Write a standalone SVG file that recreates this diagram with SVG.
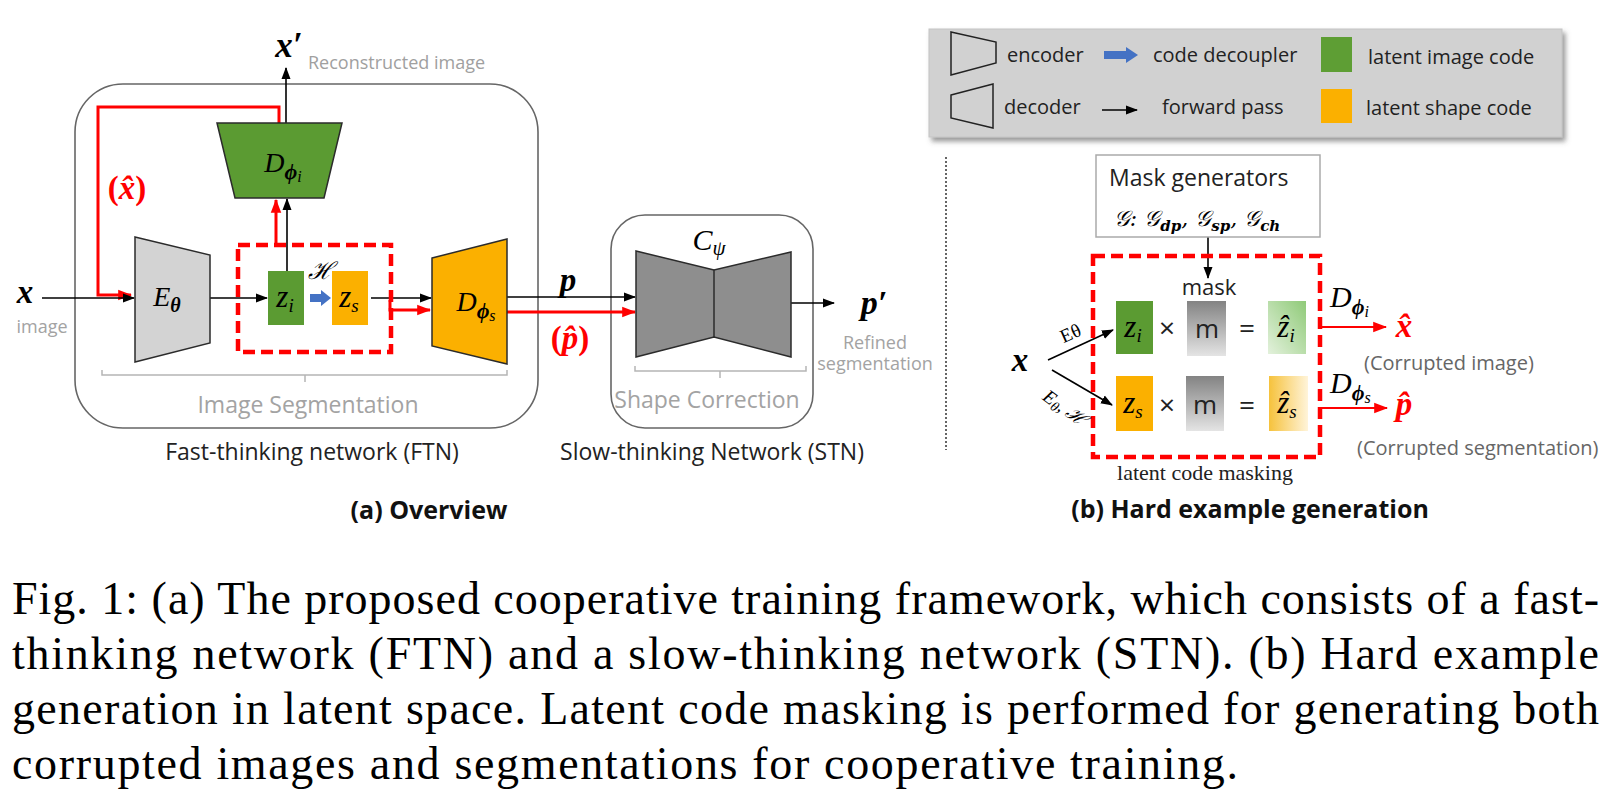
<svg xmlns="http://www.w3.org/2000/svg" width="1618" height="801" viewBox="0 0 1618 801">
<style>
.sans{font-family:"Open Sans","Liberation Sans",sans-serif}
.math{font-family:"Liberation Serif","DejaVu Serif",serif;font-style:italic}
.mb{font-family:"Liberation Serif","DejaVu Serif",serif;font-style:italic;font-weight:bold}
.gray{fill:#a3a3a3}
.dark{fill:#222}
.blk{stroke:#000;stroke-width:1.6;fill:none}
.red{stroke:#ff0000;stroke-width:3;fill:none}
.redthin{stroke:#ff0000;stroke-width:2;fill:none}
.edge{stroke:#2b2b2b;stroke-width:1.5}
.dash{stroke:#ff0000;stroke-width:4.5;stroke-dasharray:12 6;fill:none}
.cap{font-family:"Liberation Serif","DejaVu Serif",serif;font-size:46px;fill:#000}
</style>
<defs>
<marker id="ab" viewBox="0 0 12 10" refX="11" refY="5" markerWidth="12" markerHeight="10" markerUnits="userSpaceOnUse" orient="auto"><path d="M0,0.5 L12,5 L0,9.5 z" fill="#000"/></marker>
<marker id="ar" viewBox="0 0 12 10" refX="11" refY="5" markerWidth="14" markerHeight="12" markerUnits="userSpaceOnUse" orient="auto"><path d="M0,0.5 L12,5 L0,9.5 z" fill="#ff0000"/></marker>
<linearGradient id="gm" x1="0" y1="0" x2="0" y2="1"><stop offset="0" stop-color="#838383"/><stop offset="1" stop-color="#e4e4e4"/></linearGradient>
<linearGradient id="gzi" x1="1" y1="0" x2="0" y2="1"><stop offset="0" stop-color="#8fca78"/><stop offset="1" stop-color="#e3f1dc"/></linearGradient>
<linearGradient id="gzs" x1="0" y1="0" x2="1" y2="0"><stop offset="0" stop-color="#f6c23c"/><stop offset="1" stop-color="#fff4da"/></linearGradient>
<filter id="sh" x="-5%" y="-10%" width="110%" height="130%"><feDropShadow dx="3" dy="4" stdDeviation="2.5" flood-color="#555" flood-opacity="0.6"/></filter>
</defs>
<rect width="1618" height="801" fill="#fff"/>

<!-- containers -->
<g id="ftn">
<rect x="75" y="84" width="463" height="344" rx="48" fill="none" stroke="#666" stroke-width="1.6"/>
<path d="M102,370 V375 H507 V370 M305,375 V382" fill="none" stroke="#b5b5b5" stroke-width="1.5"/>
<text x="308" y="413" text-anchor="middle" class="sans gray" font-size="23">Image Segmentation</text>
<text x="312" y="460" text-anchor="middle" class="sans dark" font-size="23">Fast-thinking network (FTN)</text>
</g>
<g id="stn">
<rect x="611" y="215" width="202" height="213" rx="34" fill="none" stroke="#666" stroke-width="1.6"/>
<path d="M635,366 V371 H806 V366 M720,371 V378" fill="none" stroke="#b5b5b5" stroke-width="1.5"/>
<text x="707" y="408" text-anchor="middle" class="sans gray" font-size="23">Shape Correction</text>
<text x="712" y="460" text-anchor="middle" class="sans dark" font-size="23">Slow-thinking Network (STN)</text>
</g>

<!-- connectors -->
<g id="connectors">
<path class="blk" d="M286,123 V68" marker-end="url(#ab)"/>
<path class="red" d="M279,123 V107 H98 V295 H131" marker-end="url(#ar)"/>
<path class="blk" d="M42,298 H134" marker-end="url(#ab)"/>
<path class="blk" d="M210,298 H267" marker-end="url(#ab)"/>
<path class="blk" d="M287,271 V199" marker-end="url(#ab)"/>
<path class="red" d="M276,245 V200" marker-end="url(#ar)"/>
<polygon points="310,294 321,294 321,290 331,298 321,306 321,302 310,302" fill="#4472c4"/>
<path class="blk" d="M371,298 H431" marker-end="url(#ab)"/>
<path class="red" d="M390,300 V310 H430" marker-end="url(#ar)"/>
<path class="blk" d="M507,297 H635" marker-end="url(#ab)"/>
<path class="red" d="M507,312 H635" marker-end="url(#ar)"/>
<path class="blk" d="M791,303 H834" marker-end="url(#ab)"/>
<!-- (b) -->
<path class="blk" d="M1208,237 V278" marker-end="url(#ab)"/>
<path class="blk" d="M1048,360 L1113,330" marker-end="url(#ab)"/>
<path class="blk" d="M1052,370 L1112,405" marker-end="url(#ab)"/>
<path class="redthin" d="M1321,327 H1386" marker-end="url(#ar)"/>
<path class="redthin" d="M1321,408 H1387" marker-end="url(#ar)"/>
</g>

<!-- (a) nodes -->
<g id="x-in">
<text x="25" y="303" text-anchor="middle" class="mb" font-size="33">x</text>
<text x="42" y="333" text-anchor="middle" class="sans gray" font-size="18">image</text>
</g>
<g id="x-rec">
<text x="289" y="57" text-anchor="middle" class="mb" font-size="35">x′</text>
<text x="308" y="69" class="sans" fill="#a0a0a0" font-size="18">Reconstructed image</text>
</g>
<g id="xhat-label">
<text x="127" y="199" text-anchor="middle" font-family="Liberation Serif,DejaVu Serif,serif" font-weight="bold" font-size="33" fill="#ff0000">(<tspan font-style="italic">x̂</tspan>)</text>
</g>
<g id="encoder">
<polygon class="edge" points="135,237 210,255 210,343 135,362" fill="#d3d3d3"/>
<text x="167" y="306" text-anchor="middle" class="math" font-size="28">E<tspan font-size="20" font-weight="bold" dy="6">θ</tspan></text>
</g>
<g id="dec-img">
<polygon class="edge" points="217,123 342,123 324,198 235,198" fill="#5b9b32"/>
<text x="283" y="172" text-anchor="middle" class="math" font-size="28">D<tspan font-size="22" font-weight="bold" dy="7">ϕ</tspan><tspan font-size="16" dy="3">i</tspan></text>
</g>
<g id="code-box">
<rect x="238" y="245" width="153" height="107" class="dash"/>
</g>
<g id="zi">
<rect x="268" y="271" width="36" height="54" fill="#5b9b32"/>
<text x="285" y="307" text-anchor="middle" class="math" font-size="31">z<tspan font-size="19" dy="5">i</tspan></text>
</g>
<g id="H-label">
<text x="320" y="279" text-anchor="middle" font-family="DejaVu Serif,Liberation Serif,serif" font-style="italic" font-size="24">ℋ</text>
</g>
<g id="zs">
<rect x="332" y="271" width="36" height="54" fill="#fbb000"/>
<text x="349" y="307" text-anchor="middle" class="math" font-size="31">z<tspan font-size="19" dy="5">s</tspan></text>
</g>
<g id="dec-seg">
<polygon class="edge" points="432,258 507,239 507,364 432,346" fill="#fbb000"/>
<text x="476" y="311" text-anchor="middle" class="math" font-size="28">D<tspan font-size="22" font-weight="bold" dy="7">ϕ</tspan><tspan font-size="16" dy="3">s</tspan></text>
</g>
<g id="p-label">
<text x="568" y="291" text-anchor="middle" class="mb" font-size="33">p</text>
<text x="570" y="349" text-anchor="middle" font-family="Liberation Serif,DejaVu Serif,serif" font-weight="bold" font-size="33" fill="#ff0000">(<tspan font-style="italic">p̂</tspan>)</text>
</g>
<g id="corrector">
<polygon class="edge" points="636,251 714,270 791,252 791,357 714,337 636,357" fill="#8e8e8e"/>
<line x1="714" y1="270" x2="714" y2="337" stroke="#2b2b2b" stroke-width="1.5"/>
<text x="709" y="250" text-anchor="middle" class="math" font-size="30">C<tspan font-size="21" dy="5">ψ</tspan></text>
</g>
<g id="p-out">
<text x="874" y="314" text-anchor="middle" class="mb" font-size="34">p′</text>
<text x="875" y="349" text-anchor="middle" class="sans gray" font-size="18">Refined</text>
<text x="875" y="370" text-anchor="middle" class="sans gray" font-size="18">segmentation</text>
</g>
<g id="title-a">
<text x="429" y="519" text-anchor="middle" class="sans" font-weight="bold" font-size="25" fill="#111">(a) Overview</text>
</g>

<!-- separator -->
<line x1="946" y1="157" x2="946" y2="450" stroke="#333" stroke-width="1.5" stroke-dasharray="2 2"/>

<!-- legend -->
<g id="legend">
<rect x="929" y="29" width="633" height="108" fill="#d1d1d1" stroke="#c4c4c4" filter="url(#sh)"/>
<polygon points="951,32 996,42 996,63 951,75" fill="none" stroke="#222" stroke-width="1.5"/>
<text x="1007" y="62" class="sans dark" font-size="20">encoder</text>
<polygon points="1104,51 1126,51 1126,47 1138,55 1126,63 1126,59 1104,59" fill="#4472c4"/>
<text x="1153" y="62" class="sans dark" font-size="20">code decoupler</text>
<rect x="1321" y="37" width="31" height="35" fill="#5e9e34"/>
<text x="1368" y="64" class="sans dark" font-size="20">latent image code</text>
<polygon points="951,95 993,84 993,128 951,118" fill="none" stroke="#222" stroke-width="1.5"/>
<text x="1004" y="114" class="sans dark" font-size="20">decoder</text>
<path class="blk" d="M1102,110 H1137" marker-end="url(#ab)"/>
<text x="1162" y="114" class="sans dark" font-size="20">forward pass</text>
<rect x="1321" y="89" width="31" height="34" fill="#fbb000"/>
<text x="1366" y="115" class="sans dark" font-size="20">latent shape code</text>
</g>

<!-- (b) nodes -->
<g id="mask-gen">
<rect x="1096" y="155" width="224" height="82" fill="#fff" stroke="#aaa" stroke-width="1.5"/>
<text x="1109" y="186" class="sans dark" font-size="23">Mask generators</text>
<text x="1197" y="226" text-anchor="middle" font-family="DejaVu Serif,Liberation Serif,serif" font-style="italic" font-size="22">𝒢: 𝒢<tspan font-size="15" font-weight="bold" dy="5">dp</tspan><tspan dy="-5">, 𝒢</tspan><tspan font-size="15" font-weight="bold" dy="5">sp</tspan><tspan dy="-5">, 𝒢</tspan><tspan font-size="15" font-weight="bold" dy="5">ch</tspan></text>
</g>
<g id="masking-box">
<rect x="1093" y="256" width="227" height="201" class="dash"/>
<text x="1209" y="295" text-anchor="middle" class="sans dark" font-size="22">mask</text>
<text x="1205" y="480" text-anchor="middle" font-family="Liberation Serif,DejaVu Serif,serif" font-size="22" fill="#222">latent code masking</text>
</g>
<g id="x-b">
<text x="1020" y="371" text-anchor="middle" class="mb" font-size="33">x</text>
<text transform="translate(1073,339) rotate(-24)" text-anchor="middle" font-family="Liberation Serif,DejaVu Serif,serif" font-size="19">Eθ</text>
<text transform="translate(1061,413) rotate(36)" text-anchor="middle" class="math" font-size="19">E<tspan font-size="14" dy="3">θ</tspan><tspan dy="-3">, ℋ</tspan></text>
</g>
<g id="row-img">
<rect x="1116" y="301" width="37" height="53" fill="#5b9b32"/>
<text x="1133" y="337" text-anchor="middle" class="math" font-size="31">z<tspan font-size="19" dy="5">i</tspan></text>
<text x="1167" y="338" text-anchor="middle" class="sans dark" font-size="28">×</text>
<rect x="1187" y="301" width="39" height="55" fill="url(#gm)"/>
<text x="1207" y="338" text-anchor="middle" class="sans dark" font-size="26">m</text>
<text x="1247" y="338" text-anchor="middle" class="sans dark" font-size="28">=</text>
<rect x="1268" y="301" width="38" height="53" fill="url(#gzi)"/>
<text x="1286" y="337" text-anchor="middle" class="math" font-size="31">ẑ<tspan font-size="19" dy="5">i</tspan></text>
</g>
<g id="row-seg">
<rect x="1116" y="376" width="37" height="55" fill="#fbb000"/>
<text x="1133" y="413" text-anchor="middle" class="math" font-size="31">z<tspan font-size="19" dy="5">s</tspan></text>
<text x="1167" y="415" text-anchor="middle" class="sans dark" font-size="28">×</text>
<rect x="1186" y="376" width="38" height="55" fill="url(#gm)"/>
<text x="1205" y="414" text-anchor="middle" class="sans dark" font-size="26">m</text>
<text x="1247" y="415" text-anchor="middle" class="sans dark" font-size="28">=</text>
<rect x="1269" y="376" width="39" height="55" fill="url(#gzs)"/>
<text x="1287" y="413" text-anchor="middle" class="math" font-size="31">ẑ<tspan font-size="19" dy="5">s</tspan></text>
</g>
<g id="out-img">
<text x="1330" y="307" class="math" font-size="30">D<tspan font-size="22" font-weight="bold" dy="7">ϕ</tspan><tspan font-size="16" dy="3">i</tspan></text>
<text x="1404" y="337" text-anchor="middle" class="mb" font-size="33" fill="#ff0000">x̂</text>
<text x="1364" y="370" class="sans" fill="#666" font-size="20">(Corrupted image)</text>
</g>
<g id="out-seg">
<text x="1330" y="393" class="math" font-size="30">D<tspan font-size="22" font-weight="bold" dy="7">ϕ</tspan><tspan font-size="16" dy="3">s</tspan></text>
<text x="1404" y="415" text-anchor="middle" class="mb" font-size="33" fill="#ff0000">p̂</text>
<text x="1357" y="455" class="sans" fill="#666" font-size="20">(Corrupted segmentation)</text>
</g>
<g id="title-b">
<text x="1250" y="518" text-anchor="middle" class="sans" font-weight="bold" font-size="25" fill="#111">(b) Hard example generation</text>
</g>

<!-- caption -->
<g id="caption">
<text x="12" y="614" class="cap" textLength="1587" lengthAdjust="spacing">Fig. 1: (a) The proposed cooperative training framework, which consists of a fast-</text>
<text x="12" y="669" class="cap" textLength="1587" lengthAdjust="spacing">thinking network (FTN) and a slow-thinking network (STN). (b) Hard example</text>
<text x="12" y="724" class="cap" textLength="1587" lengthAdjust="spacing">generation in latent space. Latent code masking is performed for generating both</text>
<text x="12" y="779" class="cap" textLength="1226" lengthAdjust="spacing">corrupted images and segmentations for cooperative training.</text>
</g>
</svg>
